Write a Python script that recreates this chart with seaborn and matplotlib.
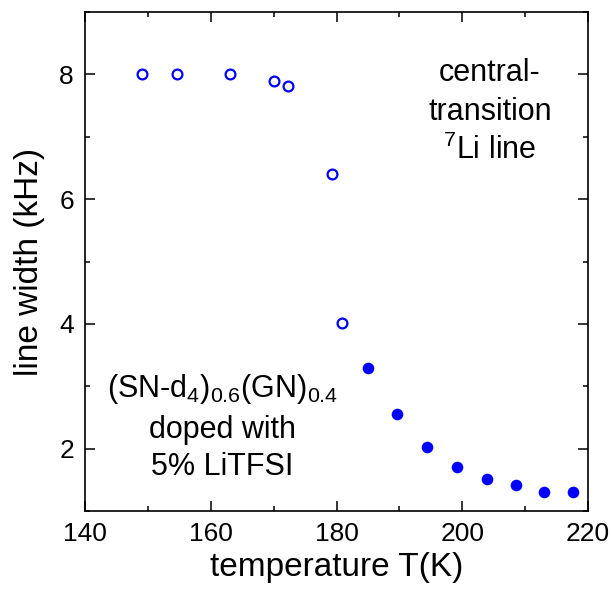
import matplotlib
matplotlib.use("Agg")
import matplotlib.pyplot as plt
from matplotlib.ticker import MultipleLocator
import seaborn as sns
import pandas as pd

# open symbols (low temperature)
temp_open = [149.1, 154.6, 163.1, 170.0, 172.3, 179.3, 180.9]
width_open = [8.0, 8.0, 8.0, 7.9, 7.81, 6.4, 4.02]

# filled symbols (high temperature)
temp_solid = [185.0, 189.6, 194.4, 199.1, 203.9, 208.5, 213.0, 217.6]
width_solid = [3.3, 2.56, 2.02, 1.71, 1.52, 1.41, 1.30, 1.30]

df_open = pd.DataFrame({'T': temp_open, 'w': width_open})
df_solid = pd.DataFrame({'T': temp_solid, 'w': width_solid})

sns.set_style("ticks")
plt.rcParams['font.family'] = ['Liberation Sans', 'DejaVu Sans']
plt.rcParams['mathtext.fontset'] = 'custom'
plt.rcParams['mathtext.rm'] = 'Liberation Sans'
plt.rcParams['mathtext.it'] = 'Liberation Sans'
plt.rcParams['text.color'] = 'black'
plt.rcParams['axes.labelcolor'] = 'black'

fig = plt.figure(figsize=(6.11, 5.93), dpi=100)
ax = fig.add_axes([85 / 611, 1 - 511 / 593, (588 - 85) / 611, (511 - 12) / 593])

blue = '#0000ff'
sns.scatterplot(data=df_open, x='T', y='w', ax=ax, marker='o', s=50,
                facecolor='white', edgecolor=blue, linewidth=1.6, zorder=3)
sns.scatterplot(data=df_solid, x='T', y='w', ax=ax, marker='o', s=70,
                color=blue, edgecolor=blue, linewidth=0, zorder=3)

ax.set_xlim(140, 220)
ax.set_ylim(1, 9)
ax.xaxis.set_major_locator(MultipleLocator(20))
ax.xaxis.set_minor_locator(MultipleLocator(10))
ax.yaxis.set_major_locator(MultipleLocator(2))
ax.yaxis.set_minor_locator(MultipleLocator(1))
ax.tick_params(which='both', direction='in', top=True, right=True,
               width=1.1, labelsize=19, colors='black')
ax.tick_params(which='major', length=7, pad=8)
ax.tick_params(which='minor', length=3.5)
for sp in ax.spines.values():
    sp.set_linewidth(1.2)
    sp.set_color('black')

ax.set_xlabel('temperature T(K)', fontsize=24, labelpad=4)
ax.set_ylabel('line width (kHz)', fontsize=24, labelpad=10)

ax.text(204.4, 8.02, 'central-', fontsize=22, ha='center', va='center')
ax.text(204.4, 7.4, 'transition', fontsize=22, ha='center', va='center')
ax.text(204.4, 6.78, r'$^7$Li line', fontsize=22, ha='center', va='center')

ax.text(161.8, 2.95, r'(SN-d$_4$)$_{0.6}$(GN)$_{0.4}$', fontsize=22, ha='center', va='center')
ax.text(161.8, 2.3, 'doped with', fontsize=22, ha='center', va='center')
ax.text(161.8, 1.7, '5% LiTFSI', fontsize=22, ha='center', va='center')

fig.savefig('out.png', dpi=100)
